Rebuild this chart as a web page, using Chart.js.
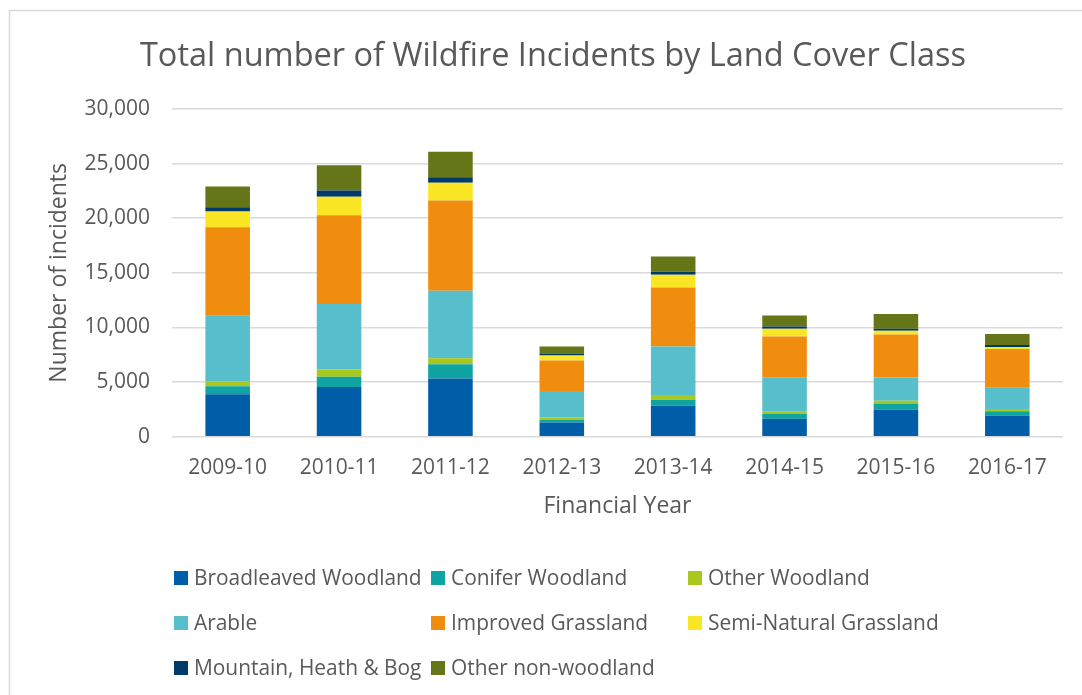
<!DOCTYPE html>
<html>
<head>
<meta charset="utf-8">
<script src="https://cdn.jsdelivr.net/npm/chart.js@4"></script>
<style>
  html, body { margin: 0; padding: 0; background: #fff; }
  #wrap { width: 1082px; height: 695px; position: relative; }
</style>
</head>
<body>
<div id="wrap"><canvas id="wildfireChart"></canvas></div>
<script>
// financial years on the x axis
var years = ['2009-10', '2010-11', '2011-12', '2012-13', '2013-14', '2014-15', '2015-16', '2016-17'];

// incidents per land cover class, one value per year
var broadleaved   = [3890, 4560, 5320, 1300, 2840, 1650, 2480, 1930];
var conifer       = [730, 920, 1320, 240, 550, 430, 550, 400];
var otherWoodland = [460, 670, 550, 240, 430, 210, 250, 210];
var arable        = [5990, 6000, 6170, 2410, 4430, 3160, 2140, 1950];
var improved      = [8100, 8130, 8260, 2780, 5410, 3720, 3940, 3550];
var semiNatural   = [1440, 1690, 1620, 460, 1170, 710, 340, 180];
var mountain      = [390, 580, 510, 180, 280, 210, 180, 180];
var otherNonWood  = [1900, 2290, 2330, 640, 1380, 1010, 1350, 1010];

var classNames = ['Broadleaved Woodland', 'Conifer Woodland', 'Other Woodland', 'Arable',
                  'Improved Grassland', 'Semi-Natural Grassland', 'Mountain, Heath & Bog', 'Other non-woodland'];
var yTicks = [0, 5000, 10000, 15000, 20000, 25000, 30000];

var series = [broadleaved, conifer, otherWoodland, arable, improved, semiNatural, mountain, otherNonWood];
var colours = ['#005ea8', '#0fa3a1', '#a8c81e', '#56bfcb', '#f08c0e', '#fbe625', '#003a69', '#647618'];

var textGrey = '#595959';
var fontFamily = "'Open Sans', sans-serif";

// light frame round the whole chart
var framePlugin = {
  id: 'frame',
  beforeDraw: function (chart) {
    var ctx = chart.ctx;
    ctx.save();
    ctx.strokeStyle = '#d9d9d9';
    ctx.lineWidth = 1.5;
    ctx.strokeRect(9.5, 10.5, 1200, 800);
    ctx.restore();
  }
};

// legend laid out in three columns under the axis title
var gridLegend = {
  id: 'gridLegend',
  afterDraw: function (chart) {
    var ctx = chart.ctx;
    var cols = [174, 431, 688];
    var rows = [578, 623, 668];
    ctx.save();
    ctx.font = '20.9px ' + fontFamily;
    ctx.textBaseline = 'middle';
    ctx.textAlign = 'left';
    chart.data.datasets.forEach(function (ds, i) {
      var x = cols[i % 3];
      var y = rows[Math.floor(i / 3)];
      ctx.fillStyle = ds.backgroundColor;
      ctx.fillRect(x, y - 7, 14, 14);
      ctx.fillStyle = textGrey;
      ctx.fillText(ds.label, x + 20, y + 1);
    });
    ctx.restore();
  }
};

var datasets = series.map(function (values, i) {
  return {
    label: classNames[i],
    data: values,
    backgroundColor: colours[i],
    borderWidth: 0,
    barPercentage: 0.4,
    categoryPercentage: 1.0
  };
});

new Chart(document.getElementById('wildfireChart'), {
  type: 'bar',
  data: { labels: years, datasets: datasets },
  plugins: [framePlugin, gridLegend],
  options: {
    responsive: true,
    maintainAspectRatio: false,
    animation: false,
    layout: { padding: { left: 43, right: 19, top: 0, bottom: 168.3 } },
    plugins: {
      legend: { display: false },
      tooltip: { enabled: false },
      title: {
        display: true,
        text: 'Total number of Wildfire Incidents by Land Cover Class',
        color: textGrey,
        font: { family: fontFamily, size: 32.5, weight: 'normal' },
        padding: { top: 37.5, bottom: 32.5 }
      }
    },
    scales: {
      x: {
        stacked: true,
        grid: { display: false, drawTicks: false },
        border: { display: false },
        ticks: { color: textGrey, font: { family: fontFamily, size: 21 }, padding: 19, maxRotation: 0 },
        title: {
          display: true,
          text: 'Financial Year',
          color: textGrey,
          font: { family: fontFamily, size: 23 },
          padding: { top: 0, bottom: 6 }
        },
        afterFit: function (scale) { scale.height = 90; }
      },
      y: {
        stacked: true,
        min: 0,
        max: 30000,
        afterBuildTicks: function (scale) {
          scale.ticks = yTicks.map(function (v) { return { value: v }; });
        },
        grid: { color: '#d9d9d9', lineWidth: 1.5, drawTicks: false },
        border: { display: false },
        ticks: {
          color: textGrey,
          font: { family: fontFamily, size: 21 },
          padding: 22,
          callback: function (v) { return Number(v).toLocaleString('en-US'); }
        },
        title: {
          display: true,
          text: 'Number of incidents',
          color: textGrey,
          font: { family: fontFamily, size: 23 },
          padding: { top: 3, bottom: 4 }
        },
        afterFit: function (scale) { scale.width = 129; }
      }
    }
  }
});
</script>
</body>
</html>
